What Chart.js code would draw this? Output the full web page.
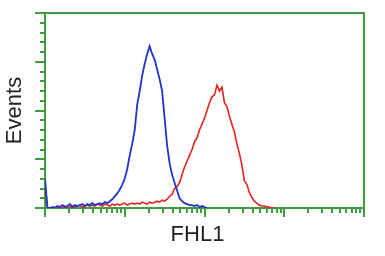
<!DOCTYPE html>
<html lang="en">
<head>
<meta charset="UTF-8">
<title>FHL1 flow histogram</title>
<script src="https://cdn.jsdelivr.net/npm/chart.js"></script>
<style>
  body { margin: 0; background: #fff; }
  #wrap { width: 385px; height: 256px; }
</style>
</head>
<body>
<div id="wrap"><canvas id="flowChart"></canvas></div>
<script>
  // histogram bins: channel numbers (1024 channels over 4 log decades)
  var channels = [0, 8, 16, 24, 32, 40, 48, 56, 64, 72, 80, 88, 96, 104, 112, 120,
    128, 136, 144, 152, 160, 168, 176, 184, 192, 200, 208, 216, 224, 232, 240, 248,
    256, 264, 272, 280, 288, 296, 304, 312, 320, 328, 336, 344, 352, 360, 368, 376,
    384, 392, 400, 408, 416, 424, 432, 440, 448, 456, 464, 472, 480, 488, 496, 504,
    512, 520, 528, 536, 544, 552, 560, 568, 576, 584, 592, 600, 608, 616, 624, 632,
    640, 648, 656, 664, 672, 680, 688, 696, 704, 712, 720, 728, 736];

  // events per bin, blue = control, red = FHL1
  var blueCounts = [15, 0, 0, 0.5, 0, 1, 0.5, 1.5, 0.5, 1, 2, 0.5, 1.5, 1, 1.5, 2,
    1, 2, 1.5, 2.5, 1.5, 2, 2.5, 2, 3, 2.5, 3.5, 4.5, 6, 7.5, 9.5, 12,
    15, 20, 27, 33, 40, 53, 60, 68, 74, 79, 83, 79, 76, 71, 66, 60,
    46, 32, 23, 17, 13, 9, 5, 3.5, 2.5, 2, 1.5, 1.5, 1, 1.5, 0.5, 1,
    0.5, 0];
  var redCounts = [12, 0, 0, 0, 0.5, 0, 0.5, 0, 1, 0.5, 0.5, 1, 0.5, 1, 1.5, 0.5,
    1, 1.5, 1, 1.5, 1, 2, 1.5, 1, 2, 1.5, 1, 2, 1.5, 2, 1.5, 2,
    2.5, 1.5, 2, 2.5, 2, 2.5, 2, 3, 2.5, 2, 3, 2.5, 3, 3.5, 3, 4,
    3.5, 4.5, 6, 7, 10, 11, 13, 17, 21, 24, 27, 30, 34, 36, 40, 43,
    46, 50, 54, 57, 58, 63, 60, 62, 54, 52, 47, 43, 39, 33, 28, 22,
    14, 12, 8, 5.5, 3.5, 2.5, 1.5, 1, 1, 0.5, 0.5, 0, 0];

  // axis ticks
  var decadeLabels = [1, 10, 100, 1000, 10000];
  var minorMultipliers = [2, 3, 4, 5, 6, 7, 8, 9];
  var channelsPerDecade = 256;
  var yTickValues = [0, 5, 10, 15, 20, 25, 30, 35, 40, 45, 50, 55, 60, 65, 70, 75, 80, 85, 90, 95, 100];
  var yMajorValues = [0, 25, 50, 75, 100];

  var green = '#3f9c3f';
  var textColor = '#222';
  var fontFamily = "'Liberation Sans', Arial, sans-serif";

  function toPoints(counts) {
    return counts.map(function (c, i) { return { x: channels[i], y: c }; });
  }

  function isMajor(c) {
    return c.tick && c.tick.major;
  }

  var flowChart = new Chart(document.getElementById('flowChart'), {
    type: 'line',
    data: {
      datasets: [{
        label: 'Control',
        data: toPoints(blueCounts),
        borderColor: '#2233cc',
        borderWidth: 1.8,
        pointRadius: 0,
        tension: 0
      }, {
        label: 'FHL1',
        data: toPoints(redCounts),
        borderColor: '#e8231f',
        borderWidth: 1.6,
        pointRadius: 0,
        tension: 0
      }]
    },
    options: {
      responsive: true,
      maintainAspectRatio: false,
      animation: false,
      layout: { padding: { left: 10, top: 13, right: 0, bottom: 0 } },
      plugins: {
        legend: { display: false },
        tooltip: { enabled: false },
        title: {
          display: true,
          text: 'FHL1',
          position: 'bottom',
          color: textColor,
          font: { family: fontFamily, size: 22, weight: 'normal', lineHeight: 1.2 },
          padding: { top: 0, bottom: 7.6 }
        }
      },
      scales: {
        x: {
          type: 'linear',
          position: 'bottom',
          min: 0,
          max: channelsPerDecade * (decadeLabels.length - 1),
          afterBuildTicks: function (scale) {
            var t = [];
            decadeLabels.forEach(function (v, d) {
              t.push({ value: channelsPerDecade * Math.log10(v), major: true });
              if (d < decadeLabels.length - 1) {
                minorMultipliers.forEach(function (m) {
                  t.push({ value: channelsPerDecade * Math.log10(m * v), major: false });
                });
              }
            });
            scale.ticks = t;
          },
          afterFit: function (scale) { scale.height = 14; },
          ticks: { display: false },
          grid: {
            drawOnChartArea: false,
            drawTicks: true,
            tickLength: 9,
            lineWidth: 2,
            tickWidth: 2,
            tickColor: green,
            color: green,
            tickBorderDash: function (c) { return isMajor(c) ? [] : [4, 100]; }
          },
          border: { color: green, width: 2 }
        },
        y: {
          type: 'linear',
          position: 'left',
          min: 0,
          max: 100,
          afterBuildTicks: function (scale) {
            scale.ticks = yTickValues.map(function (v) {
              return { value: v, major: yMajorValues.indexOf(v) >= 0 };
            });
          },
          afterFit: function (scale) { scale.width = 35; },
          ticks: { display: false },
          grid: {
            drawOnChartArea: false,
            drawTicks: true,
            tickLength: 10,
            lineWidth: 2,
            tickWidth: 2,
            tickColor: green,
            color: green,
            tickBorderDash: function (c) { return isMajor(c) ? [] : [0, 5, 4, 100]; }
          },
          border: { color: green, width: 2 },
          title: {
            display: true,
            text: 'Events',
            color: textColor,
            font: { family: fontFamily, size: 22, weight: 'normal', lineHeight: 1 },
            padding: { top: -6, bottom: 0 }
          }
        },
        // top and right frame lines
        xTop: {
          type: 'linear',
          axis: 'x',
          position: 'top',
          min: 0,
          max: 1,
          afterBuildTicks: function (scale) { scale.ticks = []; },
          afterFit: function (scale) { scale.height = 0; },
          ticks: { display: false },
          grid: { drawOnChartArea: false, drawTicks: false, color: green, lineWidth: 2 },
          border: { color: green, width: 2 }
        },
        yRight: {
          type: 'linear',
          axis: 'y',
          position: 'right',
          min: 0,
          max: 1,
          afterBuildTicks: function (scale) { scale.ticks = []; },
          afterFit: function (scale) { scale.width = 21; },
          ticks: { display: false },
          grid: { drawOnChartArea: false, drawTicks: false, color: green, lineWidth: 2 },
          border: { color: green, width: 2 }
        }
      }
    }
  });
</script>
</body>
</html>
